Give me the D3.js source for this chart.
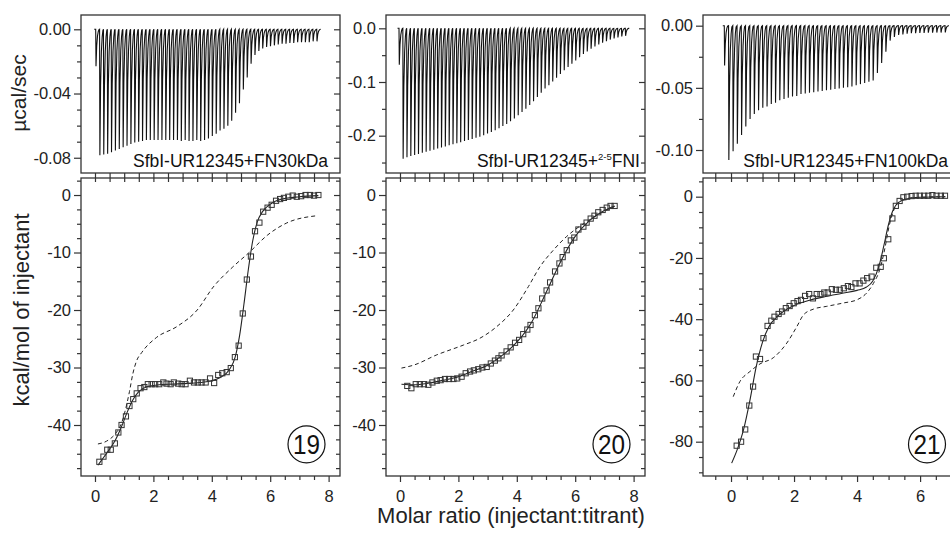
<!DOCTYPE html>
<html>
<head>
<meta charset="utf-8">
<script src="https://d3js.org/d3.v7.min.js"></script>
<style>
  body { margin: 0; background: #fff; }
  svg { display: block; font-family: "Liberation Sans", Arial, sans-serif; }
</style>
</head>
<body>
<div class="chart"></div>
<script>
// raw power peaks (µcal/sec), one value per injection
const peaks19 = [-0.023,-0.0785,-0.078,-0.0775,-0.0765,-0.0755,-0.0745,-0.0735,-0.0725,-0.0715,
  -0.0705,-0.070,-0.0695,-0.069,-0.069,-0.069,-0.069,-0.069,-0.069,-0.069,
  -0.069,-0.069,-0.0695,-0.069,-0.0695,-0.0695,-0.069,-0.0695,-0.069,-0.068,
  -0.0665,-0.065,-0.063,-0.062,-0.060,-0.057,-0.052,-0.046,-0.0375,-0.030,
  -0.0215,-0.016,-0.0135,-0.012,-0.011,-0.0105,-0.010,-0.0095,-0.009,-0.009,
  -0.0085,-0.0085,-0.008,-0.008,-0.008,-0.008,-0.0075,-0.0075];
const peaks20 = [-0.068,-0.243,-0.240,-0.238,-0.236,-0.234,-0.232,-0.230,-0.228,-0.226,
  -0.224,-0.222,-0.220,-0.218,-0.216,-0.214,-0.212,-0.210,-0.208,-0.206,
  -0.204,-0.202,-0.199,-0.196,-0.193,-0.190,-0.186,-0.182,-0.178,-0.173,
  -0.168,-0.162,-0.156,-0.150,-0.143,-0.136,-0.128,-0.120,-0.112,-0.106,
  -0.099,-0.092,-0.085,-0.078,-0.072,-0.066,-0.060,-0.054,-0.048,-0.043,
  -0.038,-0.034,-0.030,-0.027,-0.024,-0.021,-0.019,-0.017,-0.015,-0.014];
const peaks21 = [-0.032,-0.108,-0.101,-0.095,-0.088,-0.081,-0.075,-0.071,-0.068,-0.066,
  -0.065,-0.063,-0.062,-0.060,-0.059,-0.058,-0.057,-0.0565,-0.055,-0.0545,
  -0.054,-0.0535,-0.053,-0.0525,-0.052,-0.0515,-0.051,-0.0505,-0.050,-0.0495,
  -0.049,-0.048,-0.047,-0.046,-0.045,-0.044,-0.038,-0.030,-0.021,-0.012,
  -0.009,-0.0075,-0.007,-0.0065,-0.006,-0.006,-0.0058,-0.0058,-0.0056,-0.0056,
  -0.0055,-0.0055,-0.0054];

// integrated heats: molar ratio and kcal/mol of injectant
const ratio19 = [0.15,0.29,0.42,0.54,0.68,0.80,0.91,1.06,1.18,1.31,1.43,1.56,1.69,1.81,1.94,2.06,2.20,2.34,2.45,2.59,
  2.70,2.85,2.97,3.10,3.25,3.39,3.52,3.65,3.79,3.94,4.08,4.22,4.36,4.51,4.65,4.79,4.92,5.06,5.20,5.34,
  5.48,5.63,5.76,5.91,6.05,6.20,6.34,6.47,6.62,6.77,6.91,7.06,7.21,7.36,7.50,7.65];
const heat19 = [-46.4,-45.5,-44.3,-44.3,-43.2,-41.3,-40.0,-38.5,-36.7,-35.5,-34.5,-33.6,-33.4,-32.9,-32.9,-32.9,-32.9,-32.6,-32.8,-32.9,
  -32.6,-32.8,-32.9,-32.9,-32.3,-32.6,-32.6,-32.6,-32.6,-31.9,-32.7,-31.3,-31.0,-30.8,-30.1,-28.2,-26.2,-20.6,-14.7,-10.7,
  -6.3,-4.8,-2.9,-2.2,-1.7,-1.0,-0.7,-0.5,-0.3,-0.1,-0.3,-0.2,0.0,0.0,-0.1,0.0];
const ratio20 = [0.25,0.39,0.54,0.68,0.82,0.97,1.11,1.26,1.39,1.54,1.68,1.83,1.96,2.11,2.25,2.40,2.53,2.68,2.82,2.97,
  3.11,3.25,3.37,3.48,3.65,3.79,3.94,4.08,4.22,4.36,4.47,4.62,4.74,4.87,5.02,5.14,5.31,5.46,5.57,5.71,
  5.85,5.97,6.11,6.28,6.39,6.53,6.66,6.79,6.94,7.08,7.21,7.35];
const heat20 = [-33.2,-33.6,-32.9,-32.9,-32.9,-33.0,-32.6,-32.3,-32.2,-32.0,-32.0,-32.0,-31.9,-31.6,-31.0,-30.7,-30.5,-30.3,-30.0,-29.9,
  -29.3,-28.8,-28.4,-27.9,-27.2,-26.5,-25.7,-25.2,-24.2,-23.4,-22.6,-20.9,-19.7,-18.0,-16.6,-15.2,-13.3,-11.9,-10.8,-9.6,
  -7.9,-7.4,-6.0,-5.5,-4.8,-4.1,-3.6,-3.0,-2.6,-2.2,-1.9,-1.9];
const ratio21 = [0.18,0.32,0.45,0.58,0.70,0.79,0.92,1.03,1.16,1.28,1.38,1.51,1.62,1.74,1.86,1.99,2.11,2.22,2.35,2.48,
  2.60,2.72,2.84,2.96,3.07,3.20,3.33,3.45,3.58,3.71,3.82,3.95,4.08,4.20,4.32,4.46,4.61,4.75,4.85,4.99,
  5.12,5.23,5.35,5.47,5.59,5.73,5.86,5.99,6.13,6.26,6.39,6.52,6.66,6.79];
const heat21 = [-81.3,-80.0,-76.0,-68.2,-62.0,-52.2,-53.0,-46.2,-42.2,-40.5,-39.2,-38.3,-37.5,-36.4,-35.7,-34.8,-34.1,-33.7,-32.4,-31.8,
  -33.2,-31.8,-31.8,-31.3,-31.3,-30.2,-30.4,-30.4,-29.9,-29.2,-29.5,-28.3,-28.3,-27.4,-26.6,-26.1,-23.2,-22.9,-20.1,-13.9,
  -7.1,-3.0,-1.4,-0.2,0.0,0.2,0.3,0.3,0.3,0.3,0.5,0.3,0.3,0.3];

// fitted model (solid) and alternative model (dashed), [molar ratio, kcal/mol]
const fit19 = [[0.1,-47],[0.3,-45.6],[0.5,-44.2],[0.7,-42.6],[0.9,-40.4],[1.1,-37.8],[1.3,-35.6],[1.5,-34.2],[1.8,-33.3],[2.2,-33],
  [3,-32.8],[3.6,-32.6],[4,-32.3],[4.3,-31.7],[4.6,-30.4],[4.8,-28.2],[4.95,-24.5],[5.1,-19],[5.25,-13],[5.4,-8],
  [5.55,-4.8],[5.75,-2.8],[6,-1.6],[6.4,-0.7],[7,-0.3],[7.65,-0.1]];
const dash19 = [[0.1,-43.3],[0.4,-42.8],[0.7,-41.5],[0.9,-39.8],[1.05,-37.2],[1.18,-34.2],[1.3,-31],[1.42,-28.9],[1.6,-27.4],
  [2.1,-24.8],[2.8,-22.9],[3.5,-20],[4.05,-16],[4.7,-12.6],[5.3,-9.9],[5.9,-7],[6.55,-4.9],[7.6,-3.6]];
const fit20 = [[0.05,-32.9],[0.5,-33],[1,-32.7],[1.5,-32.2],[2,-31.6],[2.5,-30.6],[3,-29.6],[3.5,-27.9],[4,-25.6],[4.5,-22.2],
  [5,-17],[5.5,-11.6],[6,-7.2],[6.5,-4.4],[7,-2.7],[7.35,-1.9]];
const dash20 = [[0.05,-30.1],[0.46,-29.6],[1.26,-27.8],[2.17,-26.1],[2.74,-24.9],[3.31,-22.9],[3.88,-20],[4.4,-15.9],[4.79,-12.5],
  [5.25,-9.6],[5.71,-7.2],[6.0,-6.0],[6.5,-4.3],[7.0,-2.8],[7.35,-2.0]];
const fit21 = [[0.02,-87],[0.2,-82.5],[0.4,-76],[0.6,-66.5],[0.8,-55.5],[1.0,-47.5],[1.2,-42.5],[1.5,-38.8],[2.0,-35.5],[2.5,-33.8],
  [3.0,-32.6],[3.5,-31.6],[4.0,-30.6],[4.3,-29.5],[4.5,-27.5],[4.7,-22.5],[4.85,-16],[5.0,-9],[5.15,-4.2],[5.3,-2],
  [5.6,-0.7],[6.0,-0.2],[6.8,0]];
const dash21 = [[0.07,-65.3],[0.28,-60.4],[0.6,-57.1],[0.92,-54.6],[1.34,-52.6],[1.77,-47.8],[2.09,-42.4],[2.3,-38.6],[2.62,-36.7],
  [3.04,-35.8],[3.57,-34.7],[3.99,-33.7],[4.3,-31.5],[4.52,-28.3],[4.73,-23.5],[4.88,-17],[5.02,-9.5],[5.18,-4],[5.4,-1.3],
  [5.8,-0.3],[6.8,0]];

// tick labels
const topTicks19 = [0, -0.04, -0.08];
const topTicks20 = [0, -0.1, -0.2];
const topTicks21 = [0, -0.05, -0.10];
const botTicks19 = [0, -10, -20, -30, -40];
const botTicks20 = [0, -10, -20, -30, -40];
const botTicks21 = [0, -20, -40, -60, -80];
const xTicks = [0, 2, 4, 6, 8];

const width = 950, height = 534;
const topY = 15, topH = 158, botY = 178, botH = 298;

const panels = [
  {label: '19', left: 81, w: 259, xDom: [-0.479, 8.39],
   topDom: [-0.0895, 0.0089], topTicks: topTicks19, topStep: 0.01, topDec: 2,
   botDom: [-48.87, 2.96], botTicks: botTicks19, botStep: 2.5,
   peaks: peaks19, peakRange: [14.7, 235.7], ratio: ratio19, heat: heat19, fit: fit19, dash: dash19,
   legend: ['SfbI-UR12345+FN30kDa'], legendPad: 12, circlePad: 33.5},
  {label: '20', left: 386, w: 259, xDom: [-0.479, 8.39],
   topDom: [-0.2695, 0.0248], topTicks: topTicks20, topStep: 0.05, topDec: 1,
   botDom: [-48.87, 2.96], botTicks: botTicks20, botStep: 2.5,
   peaks: peaks20, peakRange: [13, 239.3], ratio: ratio20, heat: heat20, fit: fit20, dash: dash20,
   legend: ['SfbI-UR12345+', '2-5', 'FNI'], legendPad: 5, circlePad: 33.5},
  {label: '21', left: 703, w: 259, xDom: [-0.889, 7.33],
   topDom: [-0.1185, 0.0086], topTicks: topTicks21, topStep: 0.025, topDec: 2,
   botDom: [-91.2, 6.1], botTicks: botTicks21, botStep: 5,
   peaks: peaks21, peakRange: [21.3, 242], ratio: ratio21, heat: heat21, fit: fit21, dash: dash21,
   legend: ['SfbI-UR12345+FN100kDa'], legendPad: 14, circlePad: 35}
];

const ink = '#222', frame = '#333';

const svg = d3.select('.chart')
  .append('svg')
  .attr('width', width)
  .attr('height', height);

function styleAxis(g) {
  g.select('.domain').remove();
  g.attr('font-family', null).attr('font-size', null);
  g.selectAll('.tick line').attr('stroke', frame).attr('stroke-width', 1.2);
  g.selectAll('.tick text').attr('fill', ink).style('font-size', '16.5px');
}

function yAxes(g, y, major, step, fmt, w) {
  const [lo, hi] = y.domain();
  const minor = d3.range(Math.ceil(lo / step) * step, hi + 1e-9, step)
    .filter(v => !major.some(m => Math.abs(m - v) < 1e-9));
  g.append('g').call(d3.axisLeft(y).tickValues(major).tickFormat(fmt).tickSize(7).tickPadding(3)).call(styleAxis);
  g.append('g').call(d3.axisLeft(y).tickValues(minor).tickFormat('').tickSize(4)).call(styleAxis);
  g.append('g').attr('transform', `translate(${w},0)`)
    .call(d3.axisRight(y).tickValues(major).tickFormat('').tickSize(-6)).call(styleAxis);
  g.append('g').attr('transform', `translate(${w},0)`)
    .call(d3.axisRight(y).tickValues(minor).tickFormat('').tickSize(-4)).call(styleAxis);
}

panels.forEach(p => {
  const x = d3.scaleLinear().domain(p.xDom).range([0, p.w]);
  const yT = d3.scaleLinear().domain(p.topDom).range([topH, 0]);
  const yB = d3.scaleLinear().domain(p.botDom).range([botH, 0]);
  const xi = d3.scalePoint().domain(d3.range(p.peaks.length)).range(p.peakRange);
  const halfTicks = d3.range(-1, 9.01, 0.5).filter(v => v >= p.xDom[0] && v <= p.xDom[1]);

  // ---- raw thermogram ----
  const gT = svg.append('g').attr('transform', `translate(${p.left},${topY})`);
  const trace = [[p.peakRange[0] - 1.5, 0]];
  p.peaks.forEach((d, i) => {
    const x0 = xi(i);
    trace.push([x0, 0], [x0 + 0.3, d], [x0 + 1.0, d * 0.45], [x0 + 1.8, d * 0.18],
      [x0 + 2.6, d * 0.06], [x0 + 3.3, d * 0.01]);
  });
  trace.push([p.peakRange[1] + 4, 0]);
  gT.append('path')
    .attr('d', d3.line().x(d => d[0]).y(d => yT(d[1]))(trace))
    .attr('fill', 'none')
    .attr('stroke', '#111')
    .attr('stroke-width', 1.1);

  yAxes(gT, yT, p.topTicks, p.topStep, d => d.toFixed(p.topDec), p.w);
  gT.append('g').attr('transform', `translate(0,${topH})`)
    .call(d3.axisBottom(x).tickValues(halfTicks).tickFormat('').tickSize(5)).call(styleAxis);
  gT.append('rect').attr('width', p.w).attr('height', topH)
    .attr('fill', 'none').attr('stroke', frame).attr('stroke-width', 1.3);

  const leg = gT.append('text')
    .attr('x', p.w - p.legendPad).attr('y', 152)
    .attr('text-anchor', 'end')
    .attr('fill', '#111')
    .style('font-size', '17.5px');
  if (p.legend.length === 1) {
    leg.text(p.legend[0]);
  } else {
    leg.append('tspan').text(p.legend[0]);
    leg.append('tspan').attr('dy', -7).style('font-size', '9.5px').text(p.legend[1]);
    leg.append('tspan').attr('dy', 7).text(p.legend[2]);
  }

  // ---- binding isotherm ----
  const gB = svg.append('g').attr('transform', `translate(${p.left},${botY})`);
  const line = d3.line().x(d => x(d[0])).y(d => yB(d[1])).curve(d3.curveMonotoneX);

  gB.append('path').attr('d', line(p.dash))
    .attr('fill', 'none').attr('stroke', ink).attr('stroke-width', 1)
    .attr('stroke-dasharray', '4,3');
  gB.append('path').attr('d', line(p.fit))
    .attr('fill', 'none').attr('stroke', ink).attr('stroke-width', 1.1);

  gB.selectAll('rect.pt')
    .data(p.ratio.map((r, i) => [r, p.heat[i]]))
    .enter()
    .append('rect')
    .attr('class', 'pt')
    .attr('x', d => x(d[0]) - 2.6)
    .attr('y', d => yB(d[1]) - 2.6)
    .attr('width', 5.2)
    .attr('height', 5.2)
    .attr('fill', 'none')
    .attr('stroke', '#333')
    .attr('stroke-width', 1);

  yAxes(gB, yB, p.botTicks, p.botStep, d => String(d), p.w);

  const labelled = halfTicks.filter(v => xTicks.includes(v));
  const unlabelled = halfTicks.filter(v => !xTicks.includes(v));
  gB.append('g').attr('transform', `translate(0,${botH})`)
    .call(d3.axisBottom(x).tickValues(labelled).tickFormat(d => String(d)).tickSize(6).tickPadding(8)).call(styleAxis);
  gB.append('g').attr('transform', `translate(0,${botH})`)
    .call(d3.axisBottom(x).tickValues(unlabelled).tickFormat('').tickSize(4)).call(styleAxis);
  gB.append('g')
    .call(d3.axisTop(x).tickValues(halfTicks).tickFormat('').tickSize(-4)).call(styleAxis);
  gB.append('rect').attr('width', p.w).attr('height', botH)
    .attr('fill', 'none').attr('stroke', frame).attr('stroke-width', 1.3);

  const cx = p.w - p.circlePad, cy = botH - 31.7;
  gB.append('circle').attr('cx', cx).attr('cy', cy).attr('r', 18.5)
    .attr('fill', 'none').attr('stroke', '#111').attr('stroke-width', 1.2);
  gB.append('text').attr('x', cx).attr('y', cy).attr('dy', '0.36em')
    .attr('text-anchor', 'middle').attr('fill', '#111')
    .attr('textLength', 27).attr('lengthAdjust', 'spacingAndGlyphs')
    .style('font-size', '27px')
    .text(p.label);
});

// axis titles
svg.append('text')
  .attr('transform', 'translate(26,93) rotate(-90)')
  .attr('text-anchor', 'middle').attr('fill', ink)
  .style('font-size', '21px')
  .text('µcal/sec');

svg.append('text')
  .attr('transform', 'translate(29,310) rotate(-90)')
  .attr('text-anchor', 'middle').attr('fill', ink)
  .style('font-size', '22px')
  .text('kcal/mol of injectant');

svg.append('text')
  .attr('x', 511).attr('y', 523)
  .attr('text-anchor', 'middle').attr('fill', ink)
  .style('font-size', '22px')
  .text('Molar ratio (injectant:titrant)');
</script>
</body>
</html>
